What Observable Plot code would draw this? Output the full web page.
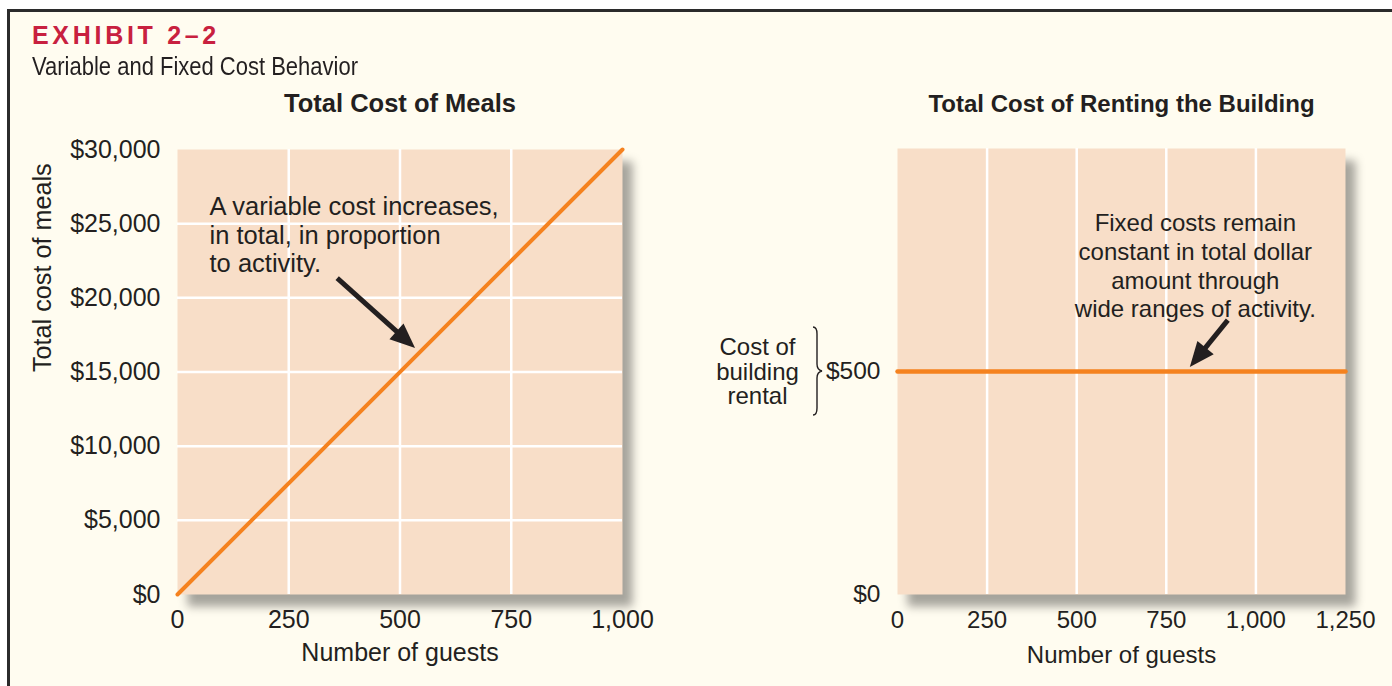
<!DOCTYPE html>
<html>
<head>
<meta charset="utf-8">
<script src="https://cdn.jsdelivr.net/npm/d3@7"></script>
<script src="https://cdn.jsdelivr.net/npm/@observablehq/plot@0.6"></script>
<style>
html, body { margin: 0; padding: 0; background: #ffffff; }
#page { position: relative; width: 1392px; height: 686px; overflow: hidden; font-family: "Liberation Sans", Arial, sans-serif; }
#frame { position: absolute; left: 7px; top: 9px; right: 0; bottom: 0; background: #fffcf0; border-left: 3px solid #2b2b2b; border-top: 3px solid #2b2b2b; }
#exhibit { position: absolute; left: 32px; top: 23px; line-height: 1; font-weight: bold; font-size: 25px; letter-spacing: 3.7px; color: #c8203f; white-space: nowrap; }
#subtitle { position: absolute; left: 32px; top: 54px; line-height: 1; font-family: "Liberation Sans", Arial, sans-serif; font-size: 25px; color: #231f20; white-space: nowrap; transform-origin: 0 0; }
.chart { position: absolute; top: 80px; }
</style>
</head>
<body>
<div id="page">
  <div id="frame"></div>
  <div id="exhibit"></div>
  <div id="subtitle"></div>
  <div id="left" class="chart" style="left:0px"></div>
  <div id="right" class="chart" style="left:680px"></div>
</div>
<script>
// ---------- data ----------
const exhibitTitle = "EXHIBIT 2–2";
const exhibitSubtitle = "Variable and Fixed Cost Behavior";

const mealsTitle = "Total Cost of Meals";
const mealsGuests = [0, 1000];
const mealsCost = [0, 30000];
const mealsXTicks = [0, 250, 500, 750, 1000];
const mealsYTicks = [0, 5000, 10000, 15000, 20000, 25000, 30000];
const mealsGridX = [250, 500, 750];
const mealsGridY = [5000, 10000, 15000, 20000, 25000];
const mealsYLabel = "Total cost of meals";
const mealsNote = "A variable cost increases,\nin total, in proportion\nto activity.";
const mealsNoteAt = { x: 72, y: 26950 };
const mealsArrow = { x1: 360, y1: 21300, x2: 535, y2: 16580 };

const rentTitle = "Total Cost of Renting the Building";
const rentGuests = [0, 1250];
const rentCost = [500, 500];
const rentXTicks = [0, 250, 500, 750, 1000, 1250];
const rentYTicks = [0, 500];
const rentGridX = [250, 500, 750, 1000];
const rentYDomain = [0, 1000];
const rentNote = "Fixed costs remain\nconstant in total dollar\namount through\nwide ranges of activity.";
const rentNoteAt = { x: 831, y: 861 };
const rentArrow = { x1: 923, y1: 614, x2: 817, y2: 509 };
const rentBraceLabel = "Cost of\nbuilding\nrental";
const rentBraceAt = 500;

const xLabel = "Number of guests";

// ---------- styles ----------
const INK = "#231f20";
const PEACH = "#f8dec8";
const ORANGE = "#f5821f";
const FONT = "Liberation Sans, Arial, sans-serif";
const comma = d3.format(",");
const dollar = d => "$" + comma(d);
const SVGNS = "http://www.w3.org/2000/svg";

document.getElementById("exhibit").textContent = exhibitTitle;
const sub = document.getElementById("subtitle");
sub.textContent = exhibitSubtitle;
sub.style.transform = `scaleX(${326 / sub.getBoundingClientRect().width})`;

function filledArrow(a) {
  return (index, scales) => {
    const x1 = scales.x(a.x1), y1 = scales.y(a.y1), x2 = scales.x(a.x2), y2 = scales.y(a.y2);
    const ang = Math.atan2(y2 - y1, x2 - x1);
    const L = 25, W = 10.5;
    const bx = x2 - L * Math.cos(ang), by = y2 - L * Math.sin(ang);
    const px = -Math.sin(ang), py = Math.cos(ang);
    const g = document.createElementNS(SVGNS, "g");
    const ln = document.createElementNS(SVGNS, "line");
    ln.setAttribute("x1", x1); ln.setAttribute("y1", y1);
    ln.setAttribute("x2", bx + 2 * Math.cos(ang)); ln.setAttribute("y2", by + 2 * Math.sin(ang));
    ln.setAttribute("stroke", INK); ln.setAttribute("stroke-width", 5);
    const head = document.createElementNS(SVGNS, "polygon");
    head.setAttribute("points", `${x2},${y2} ${bx + W * px},${by + W * py} ${bx - W * px},${by - W * py}`);
    head.setAttribute("fill", INK);
    g.appendChild(ln); g.appendChild(head);
    return g;
  };
}

function brace(value) {
  return (index, scales, values, dimensions) => {
    const x0 = dimensions.marginLeft - 84;
    const cy = scales.y(value);
    const h = 44;
    const p = document.createElementNS(SVGNS, "path");
    p.setAttribute("d",
      `M${x0},${cy - h} Q${x0 + 4},${cy - h} ${x0 + 4},${cy - h + 7} L${x0 + 4},${cy - 7} Q${x0 + 4},${cy - 1} ${x0 + 9},${cy}` +
      ` Q${x0 + 4},${cy + 1} ${x0 + 4},${cy + 7} L${x0 + 4},${cy + h - 7} Q${x0 + 4},${cy + h} ${x0},${cy + h}`);
    p.setAttribute("fill", "none");
    p.setAttribute("stroke", INK);
    p.setAttribute("stroke-width", 1.4);
    return p;
  };
}

const baseStyle = { background: "transparent", fontSize: "25px", fontFamily: FONT, color: INK, overflow: "visible" };

// ---------- left chart ----------
const mealsRows = mealsGuests.map((g, i) => ({ guests: g, cost: mealsCost[i] }));
const left = Plot.plot({
  width: 680, height: 606,
  marginLeft: 177, marginRight: 58, marginTop: 69, marginBottom: 92,
  style: baseStyle,
  x: { domain: [0, 1000], axis: null },
  y: { domain: [0, 30000], axis: null },
  marks: [
    Plot.frame({ fill: PEACH, stroke: null }),
    Plot.ruleX(mealsGridX, { stroke: "#ffffff", strokeWidth: 2.5 }),
    Plot.ruleY(mealsGridY, { stroke: "#ffffff", strokeWidth: 2.5 }),
    Plot.line(mealsRows, { x: "guests", y: "cost", stroke: ORANGE, strokeWidth: 4 }),
    Plot.axisX(mealsXTicks, { tickSize: 0, tickPadding: 16, tickFormat: comma, label: null, fontSize: 25, fill: INK }),
    Plot.axisY(mealsYTicks, { tickSize: 0, tickPadding: 17, tickFormat: dollar, label: null, fontSize: 25, fill: INK }),
    Plot.text([mealsNoteAt], { x: "x", y: "y", text: () => mealsNote, textAnchor: "start", lineAnchor: "top", lineHeight: 1.12, fontSize: 25.5, fill: INK }),
    filledArrow(mealsArrow),
    Plot.text([mealsTitle], { text: d => d, frameAnchor: "top", dy: -45.5, lineAnchor: "middle", fontWeight: "bold", fontSize: 25.5, fill: INK }),
    Plot.text([xLabel], { text: d => d, frameAnchor: "bottom", dy: 58.5, lineAnchor: "middle", fontSize: 25, fill: INK }),
    Plot.text([mealsYLabel], { text: d => d, frameAnchor: "left", dx: -135, rotate: -90, lineAnchor: "middle", fontSize: 25.2, fill: INK })
  ]
});
d3.select(left).select('[aria-label="frame"]').style("filter", "drop-shadow(10px 12px 5px rgba(0,0,0,0.35))");
document.getElementById("left").appendChild(left);

// ---------- right chart ----------
const rentRows = rentGuests.map((g, i) => ({ guests: g, cost: rentCost[i] }));
const right = Plot.plot({
  width: 712, height: 606,
  marginLeft: 217, marginRight: 47, marginTop: 68, marginBottom: 92,
  style: baseStyle,
  x: { domain: [0, 1250], axis: null },
  y: { domain: rentYDomain, axis: null },
  marks: [
    Plot.frame({ fill: PEACH, stroke: null }),
    Plot.ruleX(rentGridX, { stroke: "#ffffff", strokeWidth: 2.5 }),
    Plot.line(rentRows, { x: "guests", y: "cost", stroke: ORANGE, strokeWidth: 4.5 }),
    Plot.axisX(rentXTicks, { tickSize: 0, tickPadding: 16, tickFormat: comma, label: null, fontSize: 24, fill: INK }),
    Plot.axisY(rentYTicks, { tickSize: 0, tickPadding: 17, tickFormat: dollar, label: null, fontSize: 24.5, fill: INK }),
    Plot.text([rentNoteAt], { x: "x", y: "y", text: () => rentNote, textAnchor: "middle", lineAnchor: "top", lineHeight: 1.2, fontSize: 24, fill: INK }),
    filledArrow(rentArrow),
    Plot.text([rentBraceAt], { y: d => d, text: () => rentBraceLabel, frameAnchor: "left", dx: -140, textAnchor: "middle", lineAnchor: "middle", lineHeight: 1.04, fontSize: 24, fill: INK }),
    brace(rentBraceAt),
    Plot.text([rentTitle], { text: d => d, frameAnchor: "top", dy: -44.5, lineAnchor: "middle", fontWeight: "bold", fontSize: 24, fill: INK }),
    Plot.text([xLabel], { text: d => d, frameAnchor: "bottom", dy: 61, lineAnchor: "middle", fontSize: 24, fill: INK })
  ]
});
d3.select(right).select('[aria-label="frame"]').style("filter", "drop-shadow(10px 12px 5px rgba(0,0,0,0.35))");
document.getElementById("right").appendChild(right);
</script>
</body>
</html>
